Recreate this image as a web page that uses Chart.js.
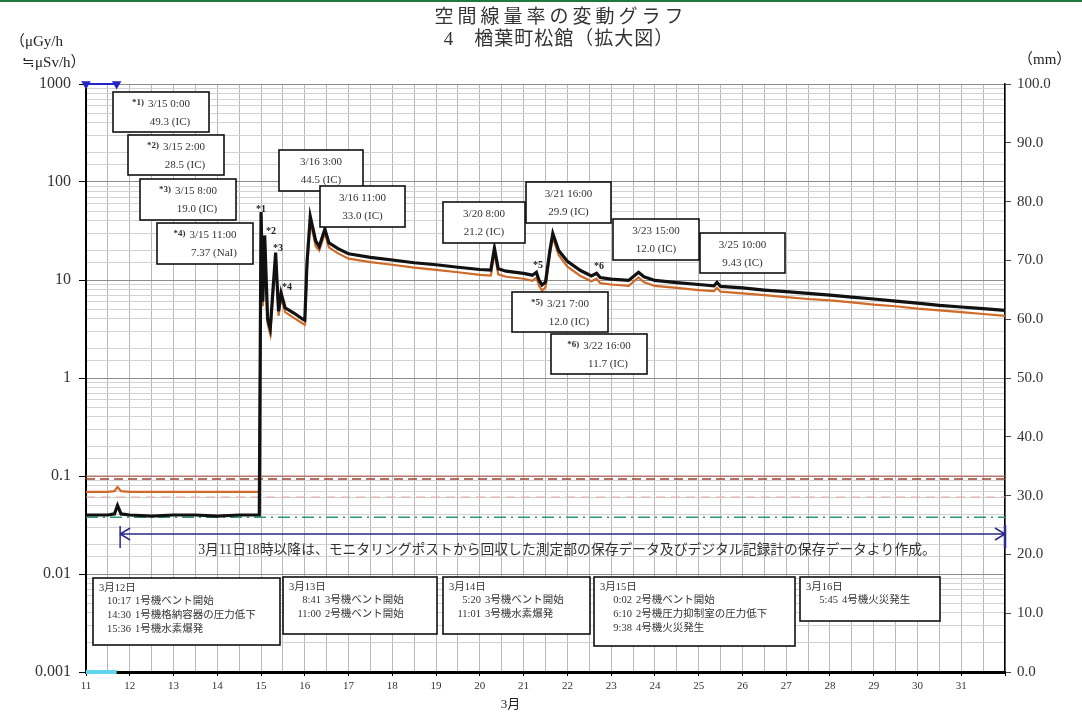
<!DOCTYPE html>
<html><head><meta charset="utf-8">
<script src="https://cdn.jsdelivr.net/npm/chart.js@4.4.0/dist/chart.umd.min.js"></script>
<style>html,body{margin:0;padding:0;background:#fff}</style>
</head><body>
<canvas id="c" width="1082" height="716"></canvas>
<script>
// ---------- data ----------
const titleLines = ['空間線量率の変動グラフ', '4　楢葉町松館（拡大図）'];
const leftUnit = ['（μGy/h', '≒μSv/h）'];
const rightUnit = '（mm）';
const xAxisTitle = '3月';
const dayTicks = [11,12,13,14,15,16,17,18,19,20,21,22,23,24,25,26,27,28,29,30,31];

// time in day-of-March (day + hour/24)
const times = [11.0,11.5,11.65,11.72,11.8,12.0,12.5,13.0,13.5,14.0,14.5,14.96,
  15.0,15.04,15.083,15.15,15.21,15.333,15.40,15.458,15.55,15.75,15.95,16.0,16.05,16.125,16.25,16.33,16.458,16.55,16.75,
  17.0,17.5,18.0,18.5,19.0,19.5,20.0,20.25,20.333,20.42,20.6,21.0,21.2,21.292,21.35,21.42,21.5,21.6,21.667,21.8,
  22.0,22.3,22.55,22.667,22.75,23.0,23.4,23.625,23.75,24.0,24.5,25.0,25.35,25.417,25.5,26.0,26.5,27.0,27.5,28.0,
  28.5,29.0,29.5,30.0,30.5,31.0,31.5,32.0];
// IC dose rate (black)
const icValues = [0.040,0.040,0.041,0.050,0.041,0.040,0.039,0.040,0.040,0.039,0.040,0.040,
  49.3,6.0,28.5,4.0,3.2,19.0,4.8,7.37,5.2,4.6,4.0,3.9,15,44.5,25,22,33.0,24,21,
  18.5,17.0,16.0,15.0,14.3,13.5,12.8,12.6,21.2,13.0,12.3,11.7,11.2,12.0,10.0,8.9,9.5,20,29.9,20,
  15.5,12.5,11.0,11.7,10.6,10.2,9.9,12.0,10.8,9.9,9.4,9.0,8.7,9.43,8.6,8.3,7.9,7.6,7.3,7.0,
  6.7,6.4,6.1,5.8,5.5,5.3,5.1,4.9];
// NaI dose rate (orange)
const naiValues = [0.069,0.069,0.070,0.077,0.070,0.069,0.069,0.069,0.069,0.069,0.069,0.069,
  45,5.4,26,3.6,2.8,17,4.3,6.6,4.7,4.1,3.6,3.5,13,40,22,20,30,21.5,18.8,
  16.5,15.2,14.3,13.4,12.7,12.0,11.3,11.1,19,11.4,10.8,10.3,9.8,10.6,8.8,7.8,8.4,18,27,18,
  13.7,11.0,9.7,10.3,9.3,9.0,8.7,10.6,9.5,8.7,8.3,7.9,7.7,8.3,7.6,7.3,7.0,6.7,6.4,6.2,
  5.9,5.6,5.4,5.1,4.9,4.7,4.5,4.3];
const rangeStart = [11, 32];
const refLine1 = [0.1, 0.1];
const refLine2 = [0.093, 0.093];
const refLine3 = [0.061, 0.061];
const refLine4 = [0.038, 0.038];
const topMarkTimes = [11.0, 11.7];
const topMarkValues = [1000, 1000];
const bottomMarkValues = [0.001, 0.001];

const callouts = [
  ['*1)','3/15 0:00','49.3 (IC)'],['*2)','3/15 2:00','28.5 (IC)'],['*3)','3/15 8:00','19.0 (IC)'],
  ['*4)','3/15 11:00','7.37 (NaI)'],['','3/16 3:00','44.5 (IC)'],['','3/16 11:00','33.0 (IC)'],
  ['','3/20 8:00','21.2 (IC)'],['','3/21 16:00','29.9 (IC)'],['*5)','3/21 7:00','12.0 (IC)'],
  ['*6)','3/22 16:00','11.7 (IC)'],['','3/23 15:00','12.0 (IC)'],['','3/25 10:00','9.43 (IC)']
];
const starLabels = ['*1','*2','*3','*4','*5','*6'];
const eventHeaders = ['3月12日','3月13日','3月14日','3月15日','3月16日'];
const eventEntries = [
  [['10:17','1号機ベント開始'],['14:30','1号機格納容器の圧力低下'],['15:36','1号機水素爆発']],
  [['8:41','3号機ベント開始'],['11:00','2号機ベント開始']],
  [['5:20','3号機ベント開始'],['11:01','3号機水素爆発']],
  [['0:02','2号機ベント開始'],['6:10','2号機圧力抑制室の圧力低下'],['9:38','4号機火災発生']],
  [['5:45','4号機火災発生']]
];
const noteText = '3月11日18時以降は、モニタリングポストから回収した測定部の保存データ及びデジタル記録計の保存データより作成。';
const arrowFrom = 11.78, arrowTo = 32, arrowLevel = 0.0256;

// ---------- layout (pixels) ----------
const calloutRects = [[113,92,96,40],[128,135,96,40],[140,179,96,41],[157,223,96,41],[279,150,84,41],[320,186,85,41],
  [443,202,82,41],[526,182,85,41],[512,292,96,40],[551,334,96,40],[613,219,86,41],[700,233,85,40]];
const starPos = [[261,209],[271,231],[278,248],[287,287],[538,265],[599,266]];
const eventRects = [[93,578,187,67],[283,577,154,57],[443,577,147,57],[594,577,201,69],[800,577,140,44]];

const SERIF = "'Liberation Serif','Noto Sans CJK JP',serif";
const CJK = "'Liberation Serif','Noto Sans CJK JP',sans-serif";

const pts = (xs, ys) => xs.map((x, i) => ({x, y: ys[i]}));
const isMajor = v => Math.abs(Math.log10(v) - Math.round(Math.log10(v))) < 1e-6;

const decor = {
  id: 'decor',
  afterDraw(chart) {
    const ctx = chart.ctx, xs = chart.scales.x, ys = chart.scales.y;
    ctx.save();
    // top green rule
    ctx.fillStyle = '#1e7a3c'; ctx.fillRect(0, 0, 1082, 2);
    // titles
    ctx.fillStyle = '#333'; ctx.textAlign = 'center'; ctx.textBaseline = 'middle';
    ctx.font = `19px ${CJK}`;
    ctx.letterSpacing = '4px'; ctx.fillText(titleLines[0], 561, 18);
    ctx.letterSpacing = '1px'; ctx.fillText(titleLines[1], 559, 40);
    ctx.letterSpacing = '0px';
    // units
    ctx.font = `15px ${SERIF}`; ctx.textAlign = 'left'; ctx.fillStyle = '#222';
    ctx.fillText(leftUnit[0], 10, 42); ctx.fillText(leftUnit[1], 22, 63);
    ctx.fillText(rightUnit, 1018, 60);
    // x title
    ctx.font = `13px ${CJK}`; ctx.textAlign = 'center';
    ctx.fillText(xAxisTitle, xs.getPixelForValue(20.7), 705);
    // note text
    ctx.font = `13.8px ${CJK}`; ctx.fillStyle = '#333';
    ctx.fillText(noteText, 567, 550);
    // arrow
    const ay = ys.getPixelForValue(arrowLevel), ax1 = xs.getPixelForValue(arrowFrom), ax2 = xs.getPixelForValue(arrowTo);
    ctx.strokeStyle = '#2a2a8a'; ctx.lineWidth = 1.5;
    ctx.beginPath();
    ctx.moveTo(ax1, ay); ctx.lineTo(ax2, ay);
    ctx.moveTo(ax1, ay - 8); ctx.lineTo(ax1, ay + 14);
    ctx.moveTo(ax1 + 10, ay - 6); ctx.lineTo(ax1, ay); ctx.lineTo(ax1 + 10, ay + 6);
    ctx.moveTo(ax2 - 10, ay - 6); ctx.lineTo(ax2, ay); ctx.lineTo(ax2 - 10, ay + 6);
    ctx.stroke();
    ctx.lineWidth = 2.5; ctx.beginPath(); ctx.moveTo(ax2, ay - 9); ctx.lineTo(ax2, ay + 14); ctx.stroke();
    // callout boxes
    callouts.forEach((c, i) => {
      const [x, y, w, h] = calloutRects[i];
      ctx.fillStyle = '#fff'; ctx.fillRect(x, y, w, h);
      ctx.strokeStyle = '#111'; ctx.lineWidth = 1.6; ctx.strokeRect(x, y, w, h);
      ctx.fillStyle = '#333'; ctx.textBaseline = 'middle';
      ctx.font = `11px ${SERIF}`;
      const tw = ctx.measureText(c[1]).width;
      let mw = 0;
      if (c[0]) { ctx.font = `bold 9px ${SERIF}`; mw = ctx.measureText(c[0]).width + 4; }
      const sx = x + w / 2 - (tw + mw) / 2;
      if (c[0]) { ctx.textAlign = 'left'; ctx.fillText(c[0], sx, y + 11); }
      ctx.font = `11px ${SERIF}`; ctx.textAlign = 'left';
      ctx.fillText(c[1], sx + mw, y + 12);
      ctx.textAlign = 'center';
      ctx.fillText(c[2], x + w / 2 + (c[0] ? 9 : 0), y + 30);
    });
    // star labels
    ctx.font = `bold 10px ${SERIF}`; ctx.fillStyle = '#222'; ctx.textAlign = 'center';
    starLabels.forEach((s, i) => ctx.fillText(s, starPos[i][0], starPos[i][1]));
    // event boxes
    eventHeaders.forEach((hd, i) => {
      const [x, y, w, h] = eventRects[i];
      ctx.fillStyle = '#fff'; ctx.fillRect(x, y, w, h);
      ctx.strokeStyle = '#111'; ctx.lineWidth = 1.6; ctx.strokeRect(x, y, w, h);
      ctx.fillStyle = '#333'; ctx.font = `10.5px ${CJK}`; ctx.textAlign = 'left';
      ctx.fillText(hd, x + 6, y + 10);
      eventEntries[i].forEach((e, j) => {
        const ly = y + 10 + 13.6 * (j + 1);
        ctx.textAlign = 'right'; ctx.fillText(e[0], x + 38, ly);
        ctx.textAlign = 'left'; ctx.fillText(e[1], x + 42, ly);
      });
    });
    ctx.restore();
  }
};

new Chart(document.getElementById('c'), {
  type: 'line',
  data: {
    datasets: [
      {data: pts(times, icValues), borderColor: '#111', borderWidth: 3.2, pointRadius: 0, tension: 0},
      {data: pts(times, naiValues), borderColor: '#cf6a28', borderWidth: 2.2, pointRadius: 0, tension: 0},
      {data: pts(topMarkTimes, topMarkValues), borderColor: '#2424c8', borderWidth: 2, pointRadius: 3.5,
        pointStyle: 'triangle', rotation: 180, pointBackgroundColor: '#2424c8', pointBorderColor: '#2424c8', clip: false},
      {data: pts(topMarkTimes, bottomMarkValues), borderColor: '#62d6ea', borderWidth: 4, pointRadius: 0, clip: false},
      {data: pts(rangeStart, refLine1), borderColor: '#c87060', borderWidth: 1, pointRadius: 0},
      {data: pts(rangeStart, refLine2), borderColor: '#a04030', borderWidth: 1.5, borderDash: [9, 5], pointRadius: 0},
      {data: pts(rangeStart, refLine3), borderColor: '#e4a8a8', borderWidth: 1, borderDash: [9, 6], pointRadius: 0},
      {data: pts(rangeStart, refLine4), borderColor: '#2f9a6a', borderWidth: 1.5, borderDash: [12, 5, 2, 5], pointRadius: 0}
    ]
  },
  options: {
    responsive: false, animation: false, parsing: true,
    layout: {padding: {top: 84, left: 0, right: 0, bottom: 0}},
    plugins: {legend: {display: false}, tooltip: {enabled: false}, title: {display: false}},
    scales: {
      x: {
        type: 'linear', min: 11, max: 32, position: 'bottom',
        afterFit: s => { s.height = 44; },
        ticks: {stepSize: 0.5, autoSkip: false, maxRotation: 0, padding: 4, color: '#333',
          font: {family: SERIF, size: 11},
          callback: v => (Number.isInteger(v) && dayTicks.includes(v)) ? String(v) : ''},
        grid: {color: '#b8b8b8', lineWidth: 1, tickLength: 4,
          tickColor: c => Number.isInteger(c.tick.value) ? '#000' : 'rgba(0,0,0,0)'},
        border: {color: '#000', width: 3}
      },
      y: {
        type: 'logarithmic', min: 0.001, max: 1000, position: 'left',
        afterFit: s => { s.width = 86; },
        ticks: {autoSkip: false, padding: 8, color: '#333', font: {family: SERIF, size: 16},
          callback: v => {
            if (!isMajor(v)) return '';
            const e = Math.round(Math.log10(v));
            return e < 0 ? Math.pow(10, e).toFixed(-e) : String(Math.pow(10, e));
          }},
        grid: {color: c => isMajor(c.tick.value) ? '#8c8c8c' : '#d2d2d2', lineWidth: 1, tickLength: 7,
          tickColor: c => isMajor(c.tick.value) ? '#000' : 'rgba(0,0,0,0)'},
        border: {color: '#000', width: 2}
      },
      y2: {
        type: 'linear', min: 0, max: 100, position: 'right',
        afterFit: s => { s.width = 77; },
        ticks: {stepSize: 10, padding: 6, color: '#333', font: {family: SERIF, size: 15},
          callback: v => v.toFixed(1)},
        grid: {drawOnChartArea: false, tickLength: 6, tickColor: '#444'},
        border: {color: '#000', width: 1.5}
      }
    }
  },
  plugins: [decor]
});
</script>
</body></html>
